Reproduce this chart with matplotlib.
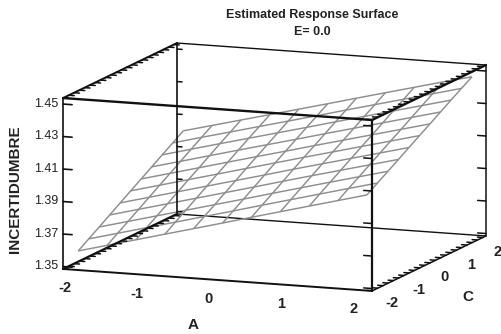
import numpy as np
import matplotlib
matplotlib.use("Agg")
import matplotlib.pyplot as plt
from mpl_toolkits.mplot3d import proj3d

plt.rcParams['font.family'] = ['Liberation Sans', 'DejaVu Sans']

# -------- data --------
a_vals = [-2.0, -1.6, -1.2, -0.8, -0.4, 0.0, 0.4, 0.8, 1.2, 1.6, 2.0]
c_vals = [-2.0, -1.6, -1.2, -0.8, -0.4, 0.0, 0.4, 0.8, 1.2, 1.6, 2.0]
# one row per C value, one column per A value
z_rows = [
    [1.3583, 1.3630, 1.3677, 1.3724, 1.3771, 1.3818, 1.3866, 1.3913, 1.3960, 1.4007, 1.4054],
    [1.3626, 1.3673, 1.3720, 1.3767, 1.3814, 1.3861, 1.3909, 1.3956, 1.4003, 1.4050, 1.4096],
    [1.3668, 1.3715, 1.3762, 1.3809, 1.3856, 1.3903, 1.3951, 1.3998, 1.4045, 1.4091, 1.4137],
    [1.3711, 1.3758, 1.3805, 1.3852, 1.3899, 1.3946, 1.3994, 1.4041, 1.4087, 1.4133, 1.4179],
    [1.3754, 1.3801, 1.3848, 1.3895, 1.3942, 1.3989, 1.4037, 1.4083, 1.4129, 1.4175, 1.4221],
    [1.3797, 1.3844, 1.3891, 1.3938, 1.3985, 1.4032, 1.4079, 1.4125, 1.4171, 1.4217, 1.4263],
    [1.3839, 1.3886, 1.3933, 1.3980, 1.4027, 1.4073, 1.4120, 1.4166, 1.4212, 1.4258, 1.4304],
    [1.3882, 1.3929, 1.3976, 1.4023, 1.4069, 1.4115, 1.4162, 1.4208, 1.4254, 1.4300, 1.4346],
    [1.3925, 1.3972, 1.4019, 1.4065, 1.4111, 1.4157, 1.4204, 1.4250, 1.4296, 1.4342, 1.4388],
    [1.3967, 1.4014, 1.4060, 1.4106, 1.4152, 1.4198, 1.4245, 1.4291, 1.4337, 1.4383, 1.4429],
    [1.4010, 1.4056, 1.4102, 1.4148, 1.4194, 1.4240, 1.4287, 1.4333, 1.4379, 1.4425, 1.4469],
]
z_ticks = [1.35, 1.37, 1.39, 1.41, 1.43, 1.45]
z_labels = ["1.35", "1.37", "1.39", "1.41", "1.43", "1.45"]
a_ticks = [-2, -1, 0, 1, 2]
a_labels = ["-2", "-1", "0", "1", "2"]
c_ticks = [-2, -1, 0, 1, 2]
c_labels = ["-2", "-1", "0", "1", "2"]
c_minor = [-2.2, -2.0, -1.8, -1.6, -1.4, -1.2, -1.0, -0.8, -0.6, -0.4, -0.2,
           0.0, 0.2, 0.4, 0.6, 0.8, 1.0, 1.2, 1.4, 1.6, 1.8, 2.0]

A_LIM = (-2.13, 2.15)
C_LIM = (-2.22, 2.12)
Z_LIM = (1.3485, 1.4537)

W, H = 501, 334
S = 600   # square 3d axes, larger than the figure so nothing gets clipped
INK = "#222222"

fig = plt.figure(figsize=(W / 100, H / 100), dpi=100)
ax = fig.add_axes([-33.6 / W, -141.1 / H, S / W, S / H], projection="3d",
                  proj_type="ortho", computed_zorder=False)
ax.set_box_aspect((331, 318, 174), zoom=0.794)
ax.view_init(elev=10.68, azim=-69)
ax.set_xlim(*A_LIM)
ax.set_ylim(*C_LIM)
ax.set_zlim(*Z_LIM)
ax.set_axis_off()
ax.patch.set_alpha(0)

# surface
X, Y = np.meshgrid(a_vals, c_vals)
ax.plot_wireframe(X, Y, np.array(z_rows), rstride=1, cstride=1, color="#8e8e8e",
                  linewidth=1.05, zorder=2)


def line(p, q, lw=1.1, z=3):
    ax.plot([p[0], q[0]], [p[1], q[1]], [p[2], q[2]], color="#111111", lw=lw,
            zorder=z, solid_capstyle="round")


def label(x, y, z, s, **kw):
    # plain figure text placed at the projected 3d point
    fig.canvas.draw_idle()
    px, py, _ = proj3d.proj_transform(x, y, z, ax.get_proj())
    fx, fy = fig.transFigure.inverted().transform(ax.transData.transform((px, py)))
    fig.text(fx, fy, s, color=INK, **kw)


a0, a1 = A_LIM
c0, c1 = C_LIM
z0, z1 = Z_LIM

# box edges
line((a0, c0, z0), (a1, c0, z0), 1.4)
line((a0, c1, z0), (a1, c1, z0), 1.0, 1)
line((a0, c0, z1), (a1, c0, z1), 1.7)
line((a0, c1, z1), (a1, c1, z1), 1.0)
line((a0, c0, z0), (a0, c1, z0), 1.6)
line((a1, c0, z0), (a1, c1, z0), 1.1)
line((a0, c0, z1), (a0, c1, z1), 1.4)
line((a1, c0, z1), (a1, c1, z1), 1.7)
line((a0, c0, z0), (a0, c0, z1), 1.2)
line((a1, c0, z0), (a1, c0, z1), 1.6)
line((a0, c1, z0), (a0, c1, z1), 1.2)
line((a1, c1, z0), (a1, c1, z1), 1.1)

# teeth along the C edges
tooth = 0.075
for c in c_minor:
    for z in (z0, z1):
        line((a0, c, z), (a0 + tooth, c, z), 1.1)
        line((a1, c, z), (a1 - tooth, c, z), 1.1)

# z ticks on the four uprights
for z in z_ticks:
    line((a0, c0, z), (a0 + 0.125, c0, z), 1.2)
    line((a1, c0, z), (a1 - 0.115, c0, z), 1.1)
    line((a0, c1, z), (a0 + 0.07, c1, z), 1.1)
    line((a1, c1, z), (a1 - 0.115, c1, z), 1.1)

# tick labels
for z, s in zip(z_ticks, z_labels):
    label(a0 - 0.07, c0, z, s, ha="right", va="center", fontsize=9)
for a, s in zip(a_ticks, a_labels):
    label(a, c0 - 0.3, z0 - 0.0092, s, ha="center", va="center", fontsize=10.5,
          fontweight="bold")
for c, s in zip(c_ticks, c_labels):
    label(a1 + 0.2, c, z0 - 0.0083, s, ha="center", va="center", fontsize=10.5,
          fontweight="bold")

# titles
fig.text(312 / W, 1 - 15 / H, "Estimated Response Surface", ha="center", va="center",
         fontsize=9, fontweight="bold", color=INK)
fig.text(312 / W, 1 - 32 / H, "E= 0.0", ha="center", va="center",
         fontsize=9, fontweight="bold", color=INK)
fig.text(193 / W, 1 - 325 / H, "A", ha="center", va="center", fontsize=11,
         fontweight="bold", color=INK)
fig.text(468 / W, 1 - 297 / H, "C", ha="center", va="center", fontsize=11,
         fontweight="bold", color=INK)
fig.text(15 / W, 1 - 189 / H, "INCERTIDUMBRE", rotation=90, ha="center", va="center",
         fontsize=11, fontweight="bold", color=INK)

fig.savefig("out.png", dpi=100)
